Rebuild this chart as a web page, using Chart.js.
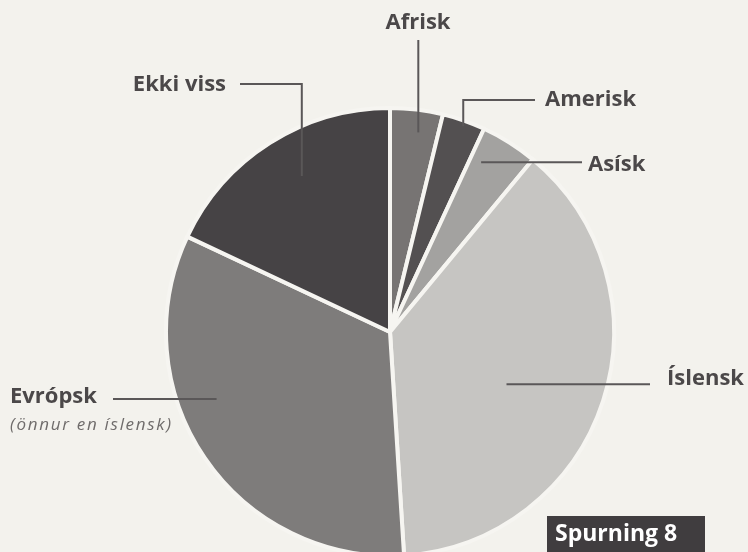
<!DOCTYPE html>
<html>
<head>
<meta charset="utf-8">
<script src="https://cdn.jsdelivr.net/npm/chart.js@4"></script>
<style>
  html, body { margin: 0; padding: 0; background: #f3f2ed; overflow: hidden; }
  #wrap { position: relative; width: 748px; height: 560px; }
</style>
</head>
<body>
<div id="wrap"><canvas id="chart-origin"></canvas></div>
<script>
{ // scoping

  // data (percent)
  const categories = ['Afrisk', 'Amerisk', 'Asísk', 'Íslensk', 'Evrópsk', 'Ekki viss'];
  const values = [3.8, 3.1, 4.1, 38.0, 33.0, 18.0];
  const colors = ['#777473', '#535051', '#a3a2a0', '#c6c5c2', '#7e7c7b', '#464345'];

  // where each label sits and how its leader line runs
  // t = position across the slice (0..1), rf = fraction of the radius
  const labels = [
    { t: 0.59, rf: 0.90, route: 'up',      x: 418, y: 40,  tx: 418, ty: 23,  align: 'center' },
    { t: 0.53, rf: 0.975, route: 'upRight', x: 535, y: 100, tx: 545, ty: 100, align: 'left' },
    { t: 0.23, rf: 0.86, route: 'right',   x: 582, y: 0,   tx: 588, ty: 165, align: 'left' },
    { t: 0.545, rf: 0.57, route: 'right',  x: 650, y: 0,   tx: 667, ty: 379, align: 'left' },
    { t: 0.61, rf: 0.83, route: 'left',    x: 113, y: 0,   tx: 10,  ty: 397, align: 'left' },
    { t: 0.545, rf: 0.80, route: 'upLeft', x: 240, y: 84,  tx: 226, ty: 85,  align: 'right' }
  ];
  const subtitle = '(önnur en íslensk)';
  const badge = 'Spurning 8';

  const leaderPlugin = {
    id: 'leaders',
    afterDraw(chart) {
      const ctx = chart.ctx;
      const arcs = chart.getDatasetMeta(0).data;
      ctx.save();
      ctx.strokeStyle = '#5a5758';
      ctx.lineWidth = 2;
      ctx.fillStyle = '#4b4849';
      ctx.textBaseline = 'middle';
      ctx.font = 'bold 22px "Open Sans"';
      arcs.forEach((arc, i) => {
        const p = arc.getProps(['x', 'y', 'startAngle', 'endAngle', 'outerRadius'], true);
        const L = labels[i];
        const a = p.startAngle + (p.endAngle - p.startAngle) * L.t;
        const r = p.outerRadius * L.rf;
        const ax = p.x + Math.cos(a) * r;
        const ay = p.y + Math.sin(a) * r;
        ctx.beginPath();
        ctx.moveTo(ax, ay);
        if (L.route === 'up') {
          ctx.lineTo(ax, L.y);
        } else if (L.route === 'upRight' || L.route === 'upLeft') {
          ctx.lineTo(ax, L.y);
          ctx.lineTo(L.x, L.y);
        } else {
          ctx.lineTo(L.x, ay);
        }
        ctx.stroke();
        ctx.textAlign = L.align;
        ctx.fillText(categories[i], L.tx, L.ty);
      });
      // subtitle under Evrópsk
      ctx.font = 'italic 17px "Open Sans"';
      ctx.letterSpacing = '1.7px';
      ctx.fillStyle = '#6f6c6b';
      ctx.textAlign = 'left';
      ctx.fillText(subtitle, 10, 425);
      ctx.letterSpacing = '0px';
      // badge
      ctx.fillStyle = '#403d3f';
      ctx.fillRect(547, 516, 158, 40);
      ctx.fillStyle = '#ffffff';
      ctx.font = 'bold 23px "Open Sans"';
      ctx.fillText(badge, 555, 534);
      ctx.restore();
    }
  };

  const ctx = document.getElementById('chart-origin').getContext('2d');

  const myChart = new Chart(ctx, {
    type: 'pie',
    data: {
      labels: categories,
      datasets: [{
        data: values,
        backgroundColor: colors,
        borderColor: '#f6f5f1',
        borderWidth: 4
      }]
    },
    options: {
      responsive: true,
      maintainAspectRatio: false,
      animation: false,
      radius: 224,
      layout: { padding: { top: 108, bottom: 4, left: 32, right: 0 } },
      plugins: {
        legend: { display: false },
        tooltip: { enabled: false }
      }
    },
    plugins: [leaderPlugin]
  });

} // scoping
</script>
</body>
</html>
